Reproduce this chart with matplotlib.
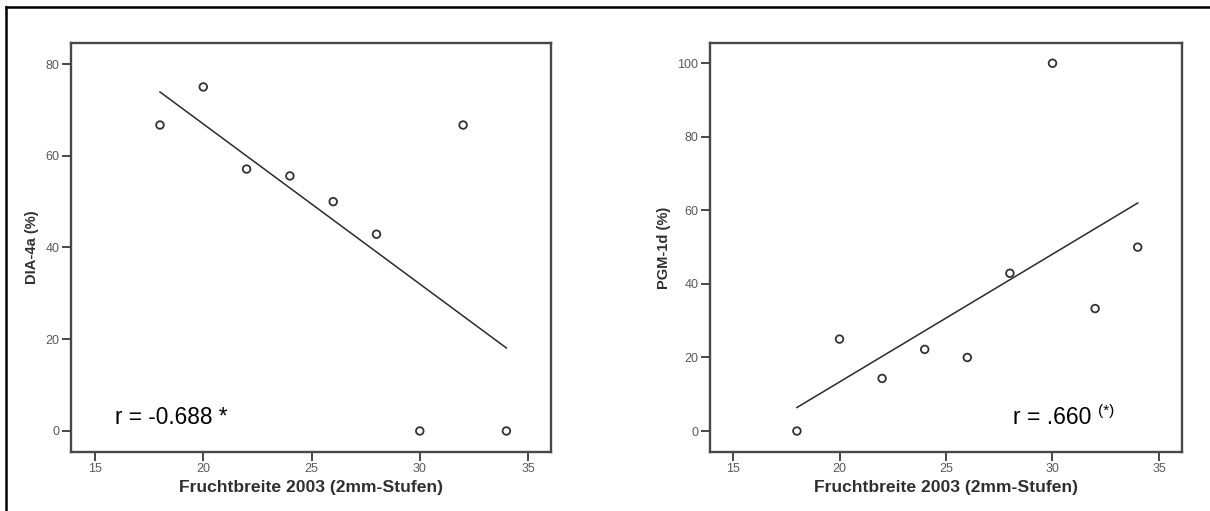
import numpy as np
import matplotlib
matplotlib.use("Agg")
import matplotlib.pyplot as plt
from matplotlib.lines import Line2D

plt.rcParams['font.family'] = ['Liberation Sans', 'DejaVu Sans']

x_vals = [18, 20, 22, 24, 26, 28, 30, 32, 34]
dia_4a = [66.7, 75.0, 57.1, 55.6, 50.0, 42.9, 0.0, 66.7, 0.0]
pgm_1d = [0.0, 25.0, 14.3, 22.2, 20.0, 42.9, 100.0, 33.3, 50.0]
xlabel = "Fruchtbreite 2003 (2mm-Stufen)"
ylabels = ["DIA-4a (%)", "PGM-1d (%)"]
xticks = [15, 20, 25, 30, 35]
yticks_left = [0, 20, 40, 60, 80]
yticks_right = [0, 20, 40, 60, 80, 100]

W, H = 1210, 511
fig = plt.figure(figsize=(W / 100, H / 100), dpi=100)
fig.patch.set_facecolor('white')

# outer frame lines (top and left)
fig.add_artist(Line2D([6 / W, 1.0], [1 - 7 / H, 1 - 7 / H], color='black', lw=1.8, transform=fig.transFigure))
fig.add_artist(Line2D([6 / W, 6 / W], [0, 1 - 7 / H], color='black', lw=1.8, transform=fig.transFigure))

def make_ax(x0, x1, y0, y1):
    return fig.add_axes([x0 / W, 1 - y1 / H, (x1 - x0) / W, (y1 - y0) / H])

frame_col = '#484848'

def style(ax, ylab, yticks, xlim, ylim, ylab_x):
    ax.set_xlim(*xlim)
    ax.set_ylim(*ylim)
    ax.set_xticks(xticks)
    ax.set_yticks(yticks)
    for s in ax.spines.values():
        s.set_color(frame_col)
        s.set_linewidth(1.7)
    ax.tick_params(direction='out', length=6.5, width=1.4, color=frame_col,
                   labelsize=9, labelcolor='#5a5a5a', pad=2)
    ax.tick_params(axis='x', pad=1.5)
    ax.set_xlabel(xlabel, fontsize=12.6, fontweight='bold', color='#303030')
    ax.xaxis.set_label_coords(0.5, -0.069)
    ax.set_ylabel(ylab, fontsize=10.5, fontweight='bold', color='#303030')
    ax.yaxis.set_label_coords(ylab_x, 0.5)

def reg(ax, y):
    xa = np.array(x_vals, float)
    ya = np.array(y, float)
    m, b = np.polyfit(xa, ya, 1)
    xs = np.array([min(x_vals), max(x_vals)])
    ax.plot(xs, m * xs + b, color='#2a2a2a', lw=1.1)
    ax.scatter(x_vals, y, s=30, facecolors='none', edgecolors='#333333', linewidths=1.3, zorder=3)

ax1 = make_ax(71, 551, 43, 452)
style(ax1, ylabels[0], yticks_left, (13.89, 36.06), (-4.58, 84.58), -0.067)
reg(ax1, dia_4a)
ax1.text(15.92, 1.5, "r = -0.688 *", fontsize=16.3, color='black', va='baseline')

ax2 = make_ax(710, 1182, 43, 452)
style(ax2, ylabels[1], yticks_right, (13.92, 36.08), (-5.7, 105.5), -0.083)
reg(ax2, pgm_1d)
t = ax2.text(28.15, 1.9, "r = .660", fontsize=16.5, color='black', va='baseline')
ax2.annotate("(*)", xy=(1, 1), xycoords=t, xytext=(4.5, 1.5), textcoords='offset points',
             fontsize=11, color='black', ha='left', va='top')

fig.savefig("out.png", dpi=100, facecolor='white')
